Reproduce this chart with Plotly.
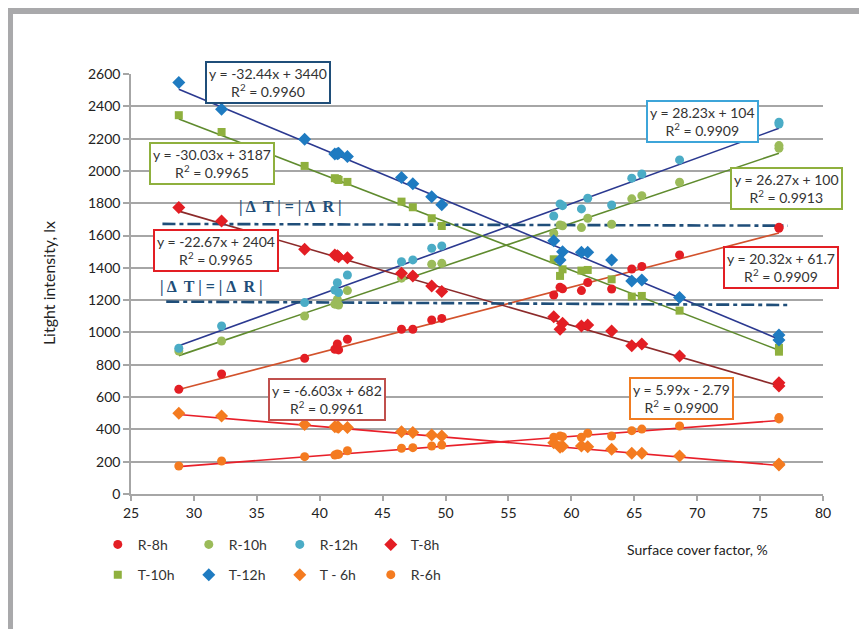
import plotly.graph_objects as go

# ---------------- data ----------------
x_cover = [28.8, 32.2, 38.8, 41.2, 41.4, 41.5, 42.2, 46.5, 47.4, 48.9, 49.7,
           58.6, 59.1, 59.3, 60.8, 61.3, 63.2, 64.8, 65.6, 68.6, 76.5, 76.5]

r_8h = [648, 743, 840, 896, 929, 892, 958, 1020, 1020, 1077, 1087,
        1232, 1280, 1270, 1259, 1309, 1269, 1393, 1408, 1480, 1651, 1645]
r_10h = [885, 947, 1102, 1175, 1205, 1170, 1259, 1336, 1350, 1422, 1428,
         1614, 1666, 1660, 1649, 1707, 1670, 1827, 1847, 1930, 2157, 2140]
r_12h = [902, 1040, 1185, 1263, 1308, 1247, 1356, 1438, 1449, 1521, 1536,
         1721, 1796, 1785, 1765, 1831, 1789, 1955, 1981, 2068, 2302, 2290]
t_8h = [1773, 1690, 1515, 1480, 1475, 1469, 1463, 1366, 1350, 1288, 1253,
        1098, 1020, 1057, 1040, 1046, 1009, 918, 929, 854, 689, 669]
t_10h = [2345, 2241, 2031, 1955, 1950, 1944, 1932, 1810, 1775, 1707, 1659,
         1453, 1350, 1391, 1383, 1387, 1329, 1222, 1226, 1135, 905, 881]
t_12h = [2547, 2382, 2196, 2105, 2107, 2109, 2089, 1960, 1920, 1840, 1790,
         1568, 1449, 1500, 1496, 1496, 1449, 1319, 1325, 1216, 985, 954]
t_6h = [500, 483, 431, 417, 415, 413, 411, 386, 380, 365, 359,
        318, 289, 295, 297, 293, 277, 252, 252, 235, 186, 180]
r_6h = [173, 204, 231, 241, 248, 245, 268, 283, 287, 297, 303,
        351, 359, 355, 351, 376, 359, 392, 402, 421, 473, 465]

series_names = ["R-8h", "R-10h", "R-12h", "T-8h", "T-10h", "T-12h", "T - 6h", "R-6h"]
series_values = [r_8h, r_10h, r_12h, t_8h, t_10h, t_12h, t_6h, r_6h]

# trend line equations (slope, intercept, R^2) as printed on the chart
trend_slopes = [20.32, 26.27, 28.23, -22.67, -30.03, -32.44, -6.603, 5.99]
trend_intercepts = [61.7, 100, 104, 2404, 3187, 3440, 682, -2.79]
trend_r2 = ["0.9909", "0.9913", "0.9909", "0.9965", "0.9965", "0.9960", "0.9961", "0.9900"]
trend_labels = ["y = 20.32x + 61.7", "y = 26.27x + 100", "y = 28.23x + 104",
                "y = -22.67x + 2404", "y = -30.03x + 3187", "y = -32.44x + 3440",
                "y = -6.603x + 682", "y = 5.99x - 2.79"]

# |ΔT| = |ΔR| reference lines
eq_upper_x = [27.5, 77.2]
eq_upper_y = [1672, 1661]
eq_lower_x = [27.8, 77.4]
eq_lower_y = [1191, 1170]
eq_label = "<b>| Δ  T | = | Δ  R |</b>"

x_ticks = list(range(25, 81, 5))
y_ticks = list(range(0, 2601, 200))

# ---------------- styles ----------------
FONT = "Lato, 'Open Sans', sans-serif"
SERIF = "'Liberation Serif', 'DejaVu Serif', serif"
marker_colors = ["#E31E24", "#9BBB59", "#4BACC6", "#E31E24", "#8FB03E", "#1F7BC1", "#F47B20", "#F47B20"]
marker_symbols = ["circle", "circle", "circle", "diamond", "square", "diamond", "diamond", "circle"]
marker_sizes = [9, 9, 9, 10, 8, 10, 10, 9]
trend_colors = ["#D2522C", "#5F8B2E", "#2B3990", "#8C2A2A", "#5F8B2E", "#2B3990", "#E8202A", "#E8202A"]
legend_ids = ["legend", "legend", "legend", "legend", "legend2", "legend2", "legend2", "legend2"]
box_colors = ["#E31E24", "#8FB03E", "#3DA5D9", "#E31E24", "#8FB03E", "#1F4E79", "#C0504D", "#F07C22"]
box_pos = [(76.66, 1405), (77.06, 1894), (70.46, 2303), (31.76, 1507),
           (31.40, 2046), (35.89, 2547), (40.58, 582), (68.75, 594)]
DASH_COLOR = "#1F4E79"

fig = go.Figure()

# trend lines
xmin, xmax = min(x_cover), max(x_cover)
for i in range(len(series_names)):
    fig.add_trace(go.Scatter(
        x=[xmin, xmax],
        y=[trend_slopes[i] * xmin + trend_intercepts[i], trend_slopes[i] * xmax + trend_intercepts[i]],
        mode="lines", line=dict(color=trend_colors[i], width=1.6),
        showlegend=False, hoverinfo="skip"))

# reference dash-dot lines
for xs, ys in [(eq_upper_x, eq_upper_y), (eq_lower_x, eq_lower_y)]:
    fig.add_trace(go.Scatter(x=xs, y=ys, mode="lines",
                             line=dict(color=DASH_COLOR, width=2.6, dash="13px,4px,4px,4px"),
                             showlegend=False, hoverinfo="skip"))

# data markers
for i in range(len(series_names)):
    fig.add_trace(go.Scatter(
        x=x_cover, y=series_values[i], mode="markers", name=series_names[i],
        marker=dict(color=marker_colors[i], symbol=marker_symbols[i], size=marker_sizes[i],
                    line=dict(width=0)),
        legend=legend_ids[i]))

# equation boxes
for i in range(len(series_names)):
    fig.add_annotation(
        x=box_pos[i][0], y=box_pos[i][1], xref="x", yref="y",
        text=f"{trend_labels[i]}<br>R<sup>2</sup> = {trend_r2[i]}",
        showarrow=False, bgcolor="white", bordercolor=box_colors[i], borderwidth=2,
        borderpad=2, font=dict(family=FONT, size=14, color="#333333"), align="center")

# |ΔT| = |ΔR| labels
fig.add_annotation(x=37.7, y=1778, xref="x", yref="y", text=eq_label, showarrow=False,
                   font=dict(family=SERIF, size=16, color=DASH_COLOR))
fig.add_annotation(x=31.4, y=1283, xref="x", yref="y", text=eq_label, showarrow=False,
                   font=dict(family=SERIF, size=16, color=DASH_COLOR))

# axis titles
fig.add_annotation(x=-0.12, y=0.502, xref="paper", yref="paper", text="Litght intensity, lx",
                   xanchor="center", yanchor="middle",
                   textangle=-90, showarrow=False, font=dict(family=FONT, size=16, color="#222222"))
fig.add_annotation(x=0.818, y=-0.133, xref="paper", yref="paper", text="Surface cover factor, %",
                   xanchor="center", yanchor="middle",
                   showarrow=False, font=dict(family=FONT, size=14, color="#222222"))

# outer frame (grey bars on top and left)
FRAME = "#A9A9AB"
fig.add_shape(type="rect", xref="paper", yref="paper", x0=-0.185, x1=1.08, y0=1.143, y1=1.2,
              fillcolor=FRAME, line=dict(width=0), layer="below")
fig.add_shape(type="rect", xref="paper", yref="paper", x0=-0.185, x1=-0.1705, y0=-0.4, y1=1.2,
              fillcolor=FRAME, line=dict(width=0), layer="below")

legend_style = dict(orientation="h", xanchor="left", yanchor="middle",
                    font=dict(family=FONT, size=14, color="#333333"),
                    entrywidth=46, entrywidthmode="pixels", bgcolor="rgba(0,0,0,0)",
                    itemclick=False, itemdoubleclick=False)

# page body has an 8px margin: figure is 8px smaller so the plot area lands
# at the reference position (x 131..823, y 74..494 in the page)
fig.update_layout(
    width=859, height=621,
    margin=dict(l=123, r=44, t=66, b=135),
    paper_bgcolor="white", plot_bgcolor="white",
    font=dict(family=FONT, size=14, color="#333333"),
    showlegend=True,
    legend=dict(x=-0.048, y=-0.121, **legend_style),
    legend2=dict(x=-0.048, y=-0.193, **legend_style),
    xaxis=dict(range=[25, 80], tickvals=x_ticks, showgrid=False, zeroline=False,
               showline=True, linecolor="#A6A6A6", linewidth=1.5, ticks="outside",
               ticklen=5, tickcolor="#A6A6A6", tickwidth=1.5,
               tickfont=dict(family=FONT, size=14, color="#222222")),
    yaxis=dict(range=[0, 2600], tickvals=y_ticks, showgrid=True, gridcolor="#A6A6A6",
               gridwidth=1.5, zeroline=False, showline=True, linecolor="#A6A6A6",
               linewidth=1.5, ticks="outside", ticklen=6, tickcolor="#A6A6A6", tickwidth=1.5,
               tickfont=dict(family=FONT, size=14, color="#222222")),
)

fig.write_html("out.html")
